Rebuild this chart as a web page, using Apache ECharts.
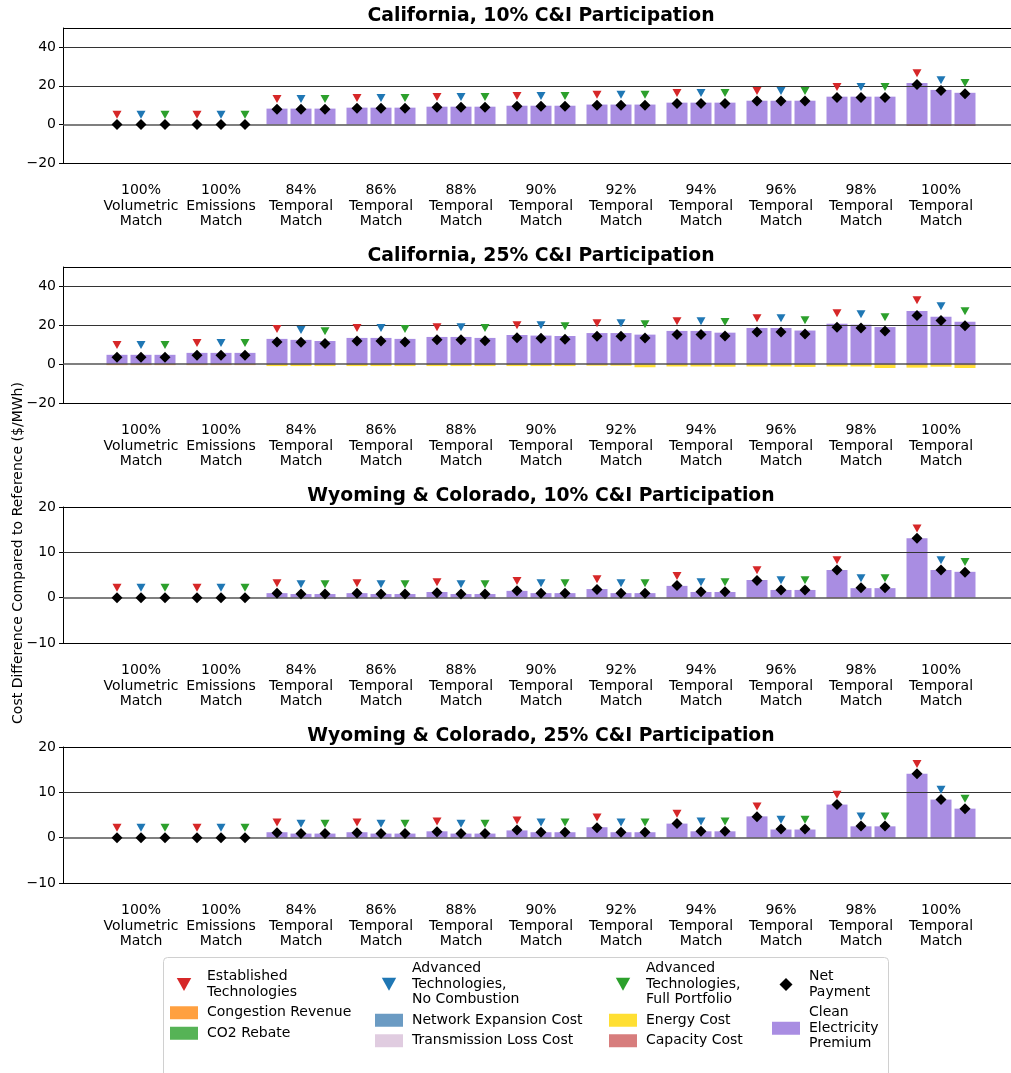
<!DOCTYPE html>
<html><head><meta charset="utf-8">
<script src="https://cdn.jsdelivr.net/npm/echarts@6/dist/echarts.min.js"></script>
<style>html,body{margin:0;padding:0;background:#fff}#c{width:1011px;height:1073px}</style>
</head><body><div id="c"></div><script>
// ---------- DATA ----------
const CATEGORIES = ['100%\nVolumetric\nMatch','100%\nEmissions\nMatch','84%\nTemporal\nMatch','86%\nTemporal\nMatch','88%\nTemporal\nMatch','90%\nTemporal\nMatch','92%\nTemporal\nMatch','94%\nTemporal\nMatch','96%\nTemporal\nMatch','98%\nTemporal\nMatch','100%\nTemporal\nMatch'];
const TECHS = ['Established Technologies','Advanced Technologies, No Combustion','Advanced Technologies, Full Portfolio'];
const PANEL_TITLES = ['California, 10% C&I Participation','California, 25% C&I Participation','Wyoming & Colorado, 10% C&I Participation','Wyoming & Colorado, 25% C&I Participation'];
const Y_TICKS_CA = [-20, 0, 20, 40];
const Y_TICKS_WC = [-10, 0, 10, 20];
const ZERO11 = [0,0,0,0,0,0,0,0,0,0,0];

// California 10% — rows: established, advanced no combustion, advanced full portfolio
const CA10_PREMIUM = [
  [0,0,8.2,8.7,9.2,9.7,10.3,11.3,12.3,14.4,21.5],
  [0,0,8.2,8.7,9.2,9.7,10.3,11.3,12.3,14.4,17.9],
  [0,0,8.2,8.7,9.2,9.7,10.3,11.3,12.3,14.4,16.4]];
const CA10_CAPACITY = [
  [0,0,0,0,0,0,0,0,0,0,-0.8],
  [0,0,0,0,0,0,0,0,0,0,-0.8],
  [0,0,0,0,0,0,0,0,0,0,-0.8]];
const CA10_NET = [
  [0,0,7.9,8.4,8.9,9.4,9.9,10.8,12.1,14.0,20.7],
  [0,0,7.9,8.4,8.9,9.4,9.9,10.8,12.1,14.0,17.6],
  [0,0,7.9,8.4,8.9,9.4,9.9,10.8,12.1,13.9,15.9]];

// California 25%
const CA25_CO2 = [
  [0,0,0,0,0,0,0,0,0,0.4,0.4],
  [0,0,0,0,0,0.3,0,0,0,0.4,0.4],
  [0,0,0,0,0,0,0.3,0.4,0.3,0,0.4]];
const CA25_PREMIUM = [
  [4.8,5.8,13.0,13.5,14.0,15.0,16.0,17.1,18.6,20.8,27.4],
  [4.8,5.8,12.5,13.5,14.0,14.7,16.0,17.1,18.6,20.3,24.4],
  [4.8,5.8,11.9,13.0,13.5,14.5,15.2,16.2,17.3,19.1,21.8]];
const CA25_ENERGY = [
  [0,0,-1.0,-1.0,-1.0,-1.0,-0.8,-1.2,-1.2,-1.2,-1.8],
  [0,0,-1.0,-1.0,-1.0,-1.0,-0.8,-1.2,-1.2,-1.2,-1.3],
  [0,0,-1.0,-1.0,-1.0,-1.0,-1.6,-1.3,-1.4,-2.0,-2.0]];
const CA25_CAPACITY = [
  [-0.3,-0.3,-0.3,-0.3,-0.3,-0.3,-0.3,-0.3,-0.3,-0.3,-0.5],
  [-0.3,-0.3,-0.3,-0.3,-0.3,-0.3,-0.3,-0.3,-0.3,-0.3,-0.4],
  [-0.3,-0.3,-0.3,-0.3,-0.3,-0.3,-0.3,-0.3,-0.3,-0.3,-0.5]];
const CA25_CONGESTION = [
  [-0.5,-0.5,-0.2,-0.2,-0.2,-0.2,-0.2,-0.2,-0.2,-0.2,-0.2],
  [-0.5,-0.5,-0.2,-0.2,-0.2,-0.2,-0.2,-0.2,-0.2,-0.2,-0.2],
  [-0.5,-0.5,-0.2,-0.2,-0.2,-0.2,-0.2,-0.2,-0.2,-0.2,-0.2]];
const CA25_NET = [
  [3.6,4.6,11.4,11.9,12.6,13.6,14.4,15.2,16.6,19.0,25.1],
  [3.6,4.6,11.3,11.9,12.6,13.3,14.4,15.2,16.6,18.6,22.4],
  [3.6,4.6,10.6,11.4,12.1,12.8,13.5,14.5,15.5,17.1,19.8]];

// Wyoming & Colorado 10%
const WC10_PREMIUM = [
  [0,0,1.0,1.0,1.25,1.5,1.9,2.6,3.9,6.1,13.1],
  [0,0,0.8,0.8,0.8,1.0,1.0,1.25,1.7,2.1,6.1],
  [0,0,0.8,0.8,0.8,1.0,1.0,1.25,1.7,2.1,5.7]];
const WC10_CAPACITY = [
  [0,0,0,0,0,0,-0.1,-0.1,-0.1,-0.1,-0.15],
  [0,0,0,0,0,0,0,0,0,0,-0.1],
  [0,0,0,0,0,0,0,0,0,0,0]];
const WC10_NET = [
  [0,0,1.0,1.0,1.1,1.5,1.8,2.7,3.8,6.1,13.1],
  [0,0,0.8,0.8,0.8,1.0,1.0,1.3,1.7,2.2,6.1],
  [0,0,0.8,0.8,0.8,1.0,1.0,1.3,1.7,2.2,5.6]];

// Wyoming & Colorado 25%
const WC25_PREMIUM = [
  [0,0,1.2,1.2,1.4,1.6,2.3,3.1,4.7,7.3,14.1],
  [0,0,0.9,0.9,0.9,1.2,1.2,1.4,1.8,2.5,8.4],
  [0,0,0.9,0.9,0.9,1.2,1.2,1.4,1.8,2.5,6.4]];
const WC25_NET = [
  [0,0,1.1,1.1,1.3,1.7,2.2,3.1,4.6,7.3,14.1],
  [0,0,0.9,0.9,0.9,1.2,1.2,1.4,1.9,2.6,8.4],
  [0,0,0.9,0.9,0.9,1.2,1.2,1.4,1.9,2.6,6.4]];

// ---------- LAYOUT / STYLE ----------
const Z3 = [ZERO11, ZERO11, ZERO11];
const PANELS = [
  {top:28,  height:135, min:-20, max:50, interval:20, ticks:Y_TICKS_CA, lines:[40,20,0],
   co2:Z3, net_exp:Z3, tloss:Z3, premium:CA10_PREMIUM, energy:Z3, capacity:CA10_CAPACITY, congestion:Z3, net:CA10_NET},
  {top:267, height:136, min:-20, max:50, interval:20, ticks:Y_TICKS_CA, lines:[40,20,0],
   co2:CA25_CO2, net_exp:Z3, tloss:Z3, premium:CA25_PREMIUM, energy:CA25_ENERGY, capacity:CA25_CAPACITY, congestion:CA25_CONGESTION, net:CA25_NET},
  {top:507, height:136, min:-10, max:20, interval:10, ticks:Y_TICKS_WC, lines:[10,0],
   co2:Z3, net_exp:Z3, tloss:Z3, premium:WC10_PREMIUM, energy:Z3, capacity:WC10_CAPACITY, congestion:Z3, net:WC10_NET},
  {top:747, height:136, min:-10, max:20, interval:10, ticks:Y_TICKS_WC, lines:[10,0],
   co2:Z3, net_exp:Z3, tloss:Z3, premium:WC25_PREMIUM, energy:Z3, capacity:Z3, congestion:Z3, net:WC25_NET}
];
const OFFS = [-0.3, 0, 0.3];
const TECH_COLORS = ['#d62728', '#1f77b4', '#2ca02c'];
const COMPONENTS = [
  {key:'co2', name:'CO2 Rebate', color:'#56b356'},
  {key:'net_exp', name:'Network Expansion Cost', color:'#6b9bc3'},
  {key:'tloss', name:'Transmission Loss Cost', color:'#e0cce0'},
  {key:'premium', name:'Clean Electricity Premium', color:'#a98de2'},
  {key:'energy', name:'Energy Cost', color:'#ffdf33'},
  {key:'capacity', name:'Capacity Cost', color:'#d77d7d'},
  {key:'congestion', name:'Congestion Revenue', color:'#ffa040'}
];
const FONT = '"DejaVu Sans", sans-serif';
const TRI = 'path://M0,0L10,0L5,9Z';
const DIA = 'path://M5,0L10,5L5,10L0,5Z';
const LEGEND_LABELS = {
  'Established Technologies':'Established\nTechnologies',
  'Advanced Technologies, No Combustion':'Advanced\nTechnologies,\nNo Combustion',
  'Advanced Technologies, Full Portfolio':'Advanced\nTechnologies,\nFull Portfolio',
  'Net Payment':'Net\nPayment',
  'Clean Electricity Premium':'Clean\nElectricity\nPremium'
};

function flat(arr) {
  const out = [];
  for (let i = 0; i < CATEGORIES.length; i++)
    for (let t = 0; t < 3; t++) out.push([i + OFFS[t], arr[t][i]]);
  return out;
}

const grids = [], xAxes = [], yAxes = [], series = [];
PANELS.forEach((p, pi) => {
  grids.push({left:63, right:0, top:p.top, height:p.height, show:false});
  xAxes.push({type:'value', gridIndex:pi, min:-0.975, max:10.875,
    axisLine:{show:true, onZero:false, lineStyle:{color:'#000', width:1}}, axisTick:{show:false}, splitLine:{show:false},
    axisLabel:{customValues:[0,1,2,3,4,5,6,7,8,9,10], formatter:v => CATEGORIES[Math.round(v)],
      fontFamily:FONT, fontSize:14, lineHeight:15.5, color:'#000', margin:20}});
  yAxes.push({type:'value', gridIndex:pi, min:p.min, max:p.max, interval:p.interval,
    axisLine:{show:true, onZero:false, lineStyle:{color:'#000', width:1}}, splitLine:{show:false},
    axisTick:{show:true, length:4, customValues:p.ticks, lineStyle:{color:'#000'}},
    axisLabel:{customValues:p.ticks, formatter:v => String(v).replace('-', '\u2212'),
      fontFamily:FONT, fontSize:14, color:'#000', margin:7}});
  COMPONENTS.forEach(c => {
    series.push({type:'bar', name:c.name, xAxisIndex:pi, yAxisIndex:pi, stack:'s'+pi,
      barWidth:21, itemStyle:{color:c.color}, emphasis:{disabled:true}, animation:false,
      data:flat(p[c.key])});
  });
  // reference lines (drawn on top of bars) and top spine
  const lineData = p.lines.map(v => ({yAxis:v, lineStyle:{color: v === 0 ? '#555' : '#333', width: v === 0 ? 1.6 : 1.2, type:'solid'}}));
  lineData.push({yAxis:p.max, lineStyle:{color:'#000', width:1, type:'solid'}});
  series.push({type:'scatter', name:'_lines'+pi, xAxisIndex:pi, yAxisIndex:pi, data:[], z:3, silent:true,
    markLine:{silent:true, symbol:'none', label:{show:false}, animation:false, data:lineData}});
  // technology markers above the positive stack
  const markOff = 0.072 * (p.max - p.min);
  TECHS.forEach((name, t) => {
    const d = [];
    for (let i = 0; i < CATEGORIES.length; i++) {
      const top = p.co2[t][i] + p.net_exp[t][i] + p.tloss[t][i] + p.premium[t][i];
      d.push([i + OFFS[t], top + markOff]);
    }
    series.push({type:'scatter', name, xAxisIndex:pi, yAxisIndex:pi, symbol:TRI, symbolSize:[9,8],
      itemStyle:{color:TECH_COLORS[t], opacity:1}, emphasis:{disabled:true}, z:5, animation:false, data:d});
  });
  series.push({type:'scatter', name:'Net Payment', xAxisIndex:pi, yAxisIndex:pi, symbol:DIA, symbolSize:[11,11],
    itemStyle:{color:'#000', opacity:1}, emphasis:{disabled:true}, z:6, animation:false, data:flat(p.net)});
});

const legendBase = {orient:'vertical', itemWidth:28, itemHeight:13, itemGap:5, padding:0, selectedMode:false,
  formatter: n => LEGEND_LABELS[n] || n,
  textStyle:{fontFamily:FONT, fontSize:14, lineHeight:15.5, color:'#000', padding:[0,0,0,4]}};
const legends = [
  Object.assign({}, legendBase, {left:170, top:969, data:[{name:TECHS[0], icon:TRI}, {name:'Congestion Revenue', icon:'rect'}, {name:'CO2 Rebate', icon:'rect'}]}),
  Object.assign({}, legendBase, {left:375, top:961, data:[{name:TECHS[1], icon:TRI}, {name:'Network Expansion Cost', icon:'rect'}, {name:'Transmission Loss Cost', icon:'rect'}]}),
  Object.assign({}, legendBase, {left:609, top:961, data:[{name:TECHS[2], icon:TRI}, {name:'Energy Cost', icon:'rect'}, {name:'Capacity Cost', icon:'rect'}]}),
  Object.assign({}, legendBase, {left:772, top:969, data:[{name:'Net Payment', icon:DIA}, {name:'Clean Electricity Premium', icon:'rect'}]})
];

const graphics = [
  {type:'rect', z:-1, shape:{x:163.5, y:957.5, width:725, height:130, r:4}, style:{fill:'#fff', stroke:'#d0d0d0', lineWidth:1}},
  {type:'text', x:18, y:553, rotation:Math.PI/2, style:{text:'Cost Difference Compared to Reference ($/MWh)', font:'14px ' + FONT, fill:'#000', align:'center', verticalAlign:'middle'}}
];
const TITLE_Y = [16, 256, 496, 736];
PANEL_TITLES.forEach((t, i) => graphics.push({type:'text', x:541, y:TITLE_Y[i],
  style:{text:t, font:'bold 18.8px ' + FONT, fill:'#000', align:'center', verticalAlign:'middle'}}));

const chart = echarts.init(document.getElementById('c'), null, {renderer:'canvas'});
chart.setOption({animation:false, backgroundColor:'#fff', grid:grids, xAxis:xAxes, yAxis:yAxes,
  series, legend:legends, graphic:graphics});
</script></body></html>
